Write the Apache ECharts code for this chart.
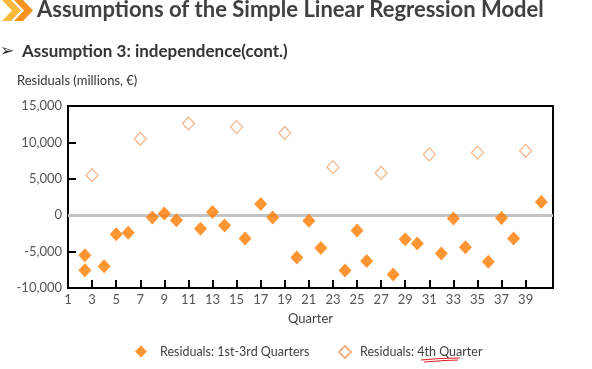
<!DOCTYPE html>
<html><head><meta charset="utf-8">
<script src="https://cdn.jsdelivr.net/npm/echarts@6/dist/echarts.min.js"></script>
<style>html,body{margin:0;padding:0;background:#fff}#c{width:592px;height:369px}</style>
</head><body><div id="c"></div>
<script>
// ---- data ----
const seriesNames = ['Residuals: 1st-3rd Quarters', 'Residuals: 4th Quarter'];
const quartersA = [2.4, 2.4, 4, 5, 6, 8, 9, 10, 12, 13, 14, 15.7, 17, 18, 20,
                   21, 22, 24, 25, 25.8, 28, 29, 30, 32, 33, 34, 35.9, 37, 38, 40.3];
const residualsA = [-5500, -7550, -7000, -2600, -2400, -300, 250, -700, -1850, 450, -1400, -3200, 1550, -300, -5800,
                    -750, -4500, -7600, -2100, -6300, -8150, -3300, -3900, -5250, -450, -4400, -6400, -400, -3200, 1800];
const quartersB = [3, 7, 11, 15, 19, 23, 27, 31, 35, 39];
const residualsB = [5500, 10500, 12600, 12100, 11300, 6600, 5800, 8350, 8600, 8850];
const xTickLabels = [1, 3, 5, 7, 9, 11, 13, 15, 17, 19, 21, 23, 25, 27, 29, 31, 33, 35, 37, 39];
const yMin = -10000, yMax = 15000, yStep = 5000;
const xMin = 1, xMax = 41.27;
const titleText = 'Assumptions of the Simple Linear Regression Model';
const subtitleText = 'Assumption 3: independence(cont.)';
const yAxisTitle = 'Residuals (millions, €)';
const xAxisTitle = 'Quarter';

const FONT = 'Lato';
const chart = echarts.init(document.getElementById('c'), null, {renderer: 'canvas'});
const axisLineStyle = {color: '#000', width: 2};

chart.setOption({
  animation: false,
  backgroundColor: '#fff',
  graphic: [
    {type: 'polygon', shape: {points: [[2,0],[11,0],[21,10.5],[11,21],[2,21],[12,10.5]]}, style: {fill: '#FBBA3C'}},
    {type: 'polygon', shape: {points: [[14,0],[23,0],[33,10.5],[23,21],[14,21],[24,10.5]]}, style: {fill: '#F7921E'}},
    {type: 'text', left: 37, top: -1, style: {text: titleText, font: 'bold 22px ' + FONT, fill: '#404040'}},
    {type: 'text', left: 0, top: 43, style: {text: '➢', font: '17px "DejaVu Sans"', fill: '#333'}},
    {type: 'text', left: 22, top: 43, style: {text: subtitleText, font: 'bold 17px ' + FONT, fill: '#333'}},
    {type: 'text', left: 17, top: 74, style: {text: yAxisTitle, font: '13px ' + FONT, fill: '#333'}},
    {type: 'polyline', shape: {points: [[421,360],[440,358.5],[460,358]]}, style: {stroke: '#E02020', lineWidth: 1.2}},
    {type: 'polyline', shape: {points: [[424,362],[445,360.5],[458,360]]}, style: {stroke: '#E02020', lineWidth: 1.2}}
  ],
  grid: {left: 68, right: 39, top: 106, bottom: 81, show: true, borderColor: '#000', borderWidth: 2},
  legend: [
    {data: [seriesNames[0]], left: 135, top: 345, padding: 0, itemWidth: 12, itemHeight: 12,
     textStyle: {color: '#404040', fontFamily: FONT, fontSize: 12.5, padding: [0,0,0,8]}},
    {data: [seriesNames[1]], left: 338, top: 345, padding: 0, itemWidth: 12, itemHeight: 12,
     textStyle: {color: '#404040', fontFamily: FONT, fontSize: 12.5, padding: [0,0,0,4]}}
  ],
  xAxis: {
    type: 'value', min: xMin, max: xMax,
    name: xAxisTitle, nameLocation: 'middle', nameGap: 24,
    nameTextStyle: {color: '#404040', fontFamily: FONT, fontSize: 13},
    axisLine: {show: true, onZero: false, lineStyle: axisLineStyle},
    axisTick: {show: true, inside: true, length: 8, lineStyle: axisLineStyle, customValues: xTickLabels},
    axisLabel: {customValues: xTickLabels, color: '#555', fontFamily: FONT, fontSize: 13, margin: 5},
    splitLine: {show: false}
  },
  yAxis: {
    type: 'value', min: yMin, max: yMax, interval: yStep,
    axisLine: {show: true, onZero: false, lineStyle: axisLineStyle},
    axisTick: {show: true, inside: true, length: 8, lineStyle: axisLineStyle},
    axisLabel: {color: '#555', fontFamily: FONT, fontSize: 13, margin: 6},
    splitLine: {show: false}
  },
  series: [
    {
      name: seriesNames[0], type: 'scatter', symbol: 'diamond', symbolSize: [13, 14], z: 3,
      itemStyle: {color: '#FF7A00'},
      data: quartersA.map((q, i) => [q, residualsA[i]]),
      markLine: {
        silent: true, symbol: 'none', z: 1,
        label: {show: false},
        lineStyle: {color: '#C4C4C4', width: 3, type: 'solid'},
        data: [{yAxis: 0}]
      }
    },
    {
      name: seriesNames[1], type: 'scatter', symbol: 'diamond', symbolSize: [12, 13], z: 3,
      itemStyle: {color: '#fff', borderColor: '#F2A06A', borderWidth: 1.2},
      data: quartersB.map((q, i) => [q, residualsB[i]])
    }
  ]
});
</script>
</body></html>
